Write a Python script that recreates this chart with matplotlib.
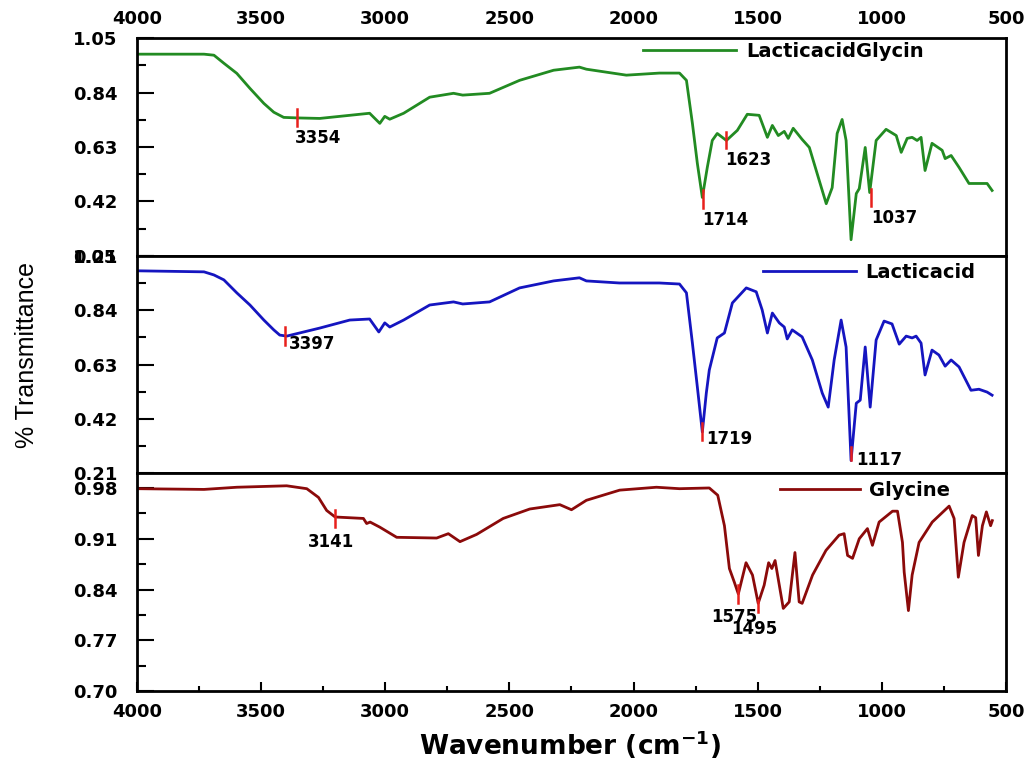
import matplotlib
matplotlib.use("Agg")
from matplotlib import pyplot as plt
from matplotlib import font_manager
from matplotlib.ticker import MultipleLocator, FormatStrFormatter

# ---- data ----
# LacticacidGlycin (top panel)
wn_lg = [4000, 3730, 3690, 3650, 3598, 3545, 3489, 3449, 3409, 3354, 3264, 3063, 3022, 3002, 2982,
         2926, 2821, 2725, 2688, 2580, 2459, 2322, 2218, 2190, 2029, 1896, 1815, 1787, 1763,
         1743, 1723, 1703, 1683, 1663, 1626, 1582, 1542, 1494, 1461, 1441, 1417, 1393, 1377,
         1357, 1321, 1292, 1252, 1224, 1200, 1180, 1160, 1144, 1124, 1103, 1091, 1067, 1049,
         1023, 983, 942, 922, 898, 878, 858, 842, 826, 798, 757, 745, 721, 689, 649,
         609, 576, 556]
t_lg = [0.988, 0.988, 0.984, 0.953, 0.914, 0.856, 0.798, 0.764, 0.744, 0.742, 0.740, 0.760, 0.721, 0.748, 0.737,
        0.760, 0.822, 0.837, 0.830, 0.837, 0.887, 0.926, 0.938, 0.930, 0.907, 0.915, 0.915, 0.887, 0.721,
        0.566, 0.435, 0.551, 0.655, 0.682, 0.655, 0.694, 0.756, 0.752, 0.667, 0.713, 0.674, 0.690, 0.663,
        0.702, 0.659, 0.628, 0.500, 0.411, 0.473, 0.682, 0.736, 0.655, 0.272, 0.450, 0.469, 0.628, 0.454,
        0.655, 0.698, 0.674, 0.609, 0.663, 0.667, 0.655, 0.667, 0.539, 0.644, 0.617, 0.585, 0.597, 0.551, 0.489,
        0.489, 0.489, 0.462]

# Lacticacid (middle panel)
wn_la = [4000, 3730, 3690, 3650, 3598, 3545, 3489, 3449, 3425, 3397, 3264, 3143, 3063, 3026, 3002,
         2982, 2926, 2821, 2725, 2688, 2580, 2459, 2322, 2218, 2190, 2057, 1896, 1815, 1787, 1763,
         1743, 1723, 1707, 1695, 1663, 1634, 1602, 1546, 1506, 1482, 1461, 1441, 1413, 1393, 1381,
         1361, 1321, 1280, 1240, 1216, 1192, 1164, 1144, 1124, 1103, 1087, 1067, 1047, 1023, 991,
         959, 930, 902, 878, 862, 842, 826, 798, 770, 745, 721, 689, 641, 609, 576, 556]
t_la = [0.992, 0.988, 0.976, 0.957, 0.907, 0.860, 0.802, 0.764, 0.744, 0.740, 0.771, 0.802, 0.806, 0.756, 0.791,
        0.775, 0.802, 0.860, 0.872, 0.864, 0.872, 0.926, 0.953, 0.965, 0.953, 0.945, 0.945, 0.941, 0.907, 0.713,
        0.543, 0.370, 0.520, 0.609, 0.733, 0.752, 0.868, 0.926, 0.911, 0.841, 0.752, 0.829, 0.791, 0.775, 0.729,
        0.764, 0.737, 0.648, 0.520, 0.466, 0.648, 0.802, 0.698, 0.260, 0.481, 0.493, 0.698, 0.466, 0.725, 0.798,
        0.787, 0.709, 0.740, 0.733, 0.740, 0.713, 0.590, 0.686, 0.667, 0.624, 0.648, 0.621, 0.531, 0.535, 0.524, 0.512]

# Glycine (bottom panel)
wn_gl = [4000, 3730, 3598, 3397, 3316, 3269, 3236, 3202, 3088, 3075, 3061, 3022, 2954, 2793,
         2746, 2699, 2632, 2525, 2418, 2297, 2250, 2190, 2056, 1908, 1815, 1695, 1661, 1634,
         1614, 1594, 1578, 1547, 1521, 1498, 1474, 1456, 1443, 1430, 1413, 1397, 1373, 1350,
         1333, 1321, 1279, 1225, 1172, 1152, 1138, 1118, 1091, 1058, 1038, 1011, 957, 937,
         917, 910, 893, 878, 850, 797, 729, 709, 692, 669, 636, 622, 611, 595, 579, 562, 555]
t_gl = [0.979, 0.978, 0.981, 0.983, 0.979, 0.967, 0.949, 0.940, 0.938, 0.931, 0.933, 0.926, 0.912, 0.911,
        0.917, 0.906, 0.916, 0.938, 0.951, 0.957, 0.950, 0.963, 0.977, 0.981, 0.979, 0.980, 0.970, 0.928,
        0.869, 0.850, 0.834, 0.877, 0.860, 0.821, 0.846, 0.877, 0.869, 0.880, 0.846, 0.814, 0.823, 0.891,
        0.823, 0.821, 0.860, 0.894, 0.915, 0.917, 0.887, 0.883, 0.910, 0.924, 0.901, 0.933, 0.948, 0.948,
        0.905, 0.864, 0.811, 0.860, 0.905, 0.933, 0.955, 0.938, 0.857, 0.905, 0.942, 0.939, 0.887, 0.928,
        0.947, 0.928, 0.935]

names = ["LacticacidGlycin", "Lacticacid", "Glycine"]
colors = ["#228b22", "#1515c0", "#8b0a0a"]

# peak marks: (marker wavenumber, marker y0, marker y1, label, label x, label y, ha)
peaks_lg = [(3354, 0.709, 0.775, "3354", 3365, 0.663, "left"),
            (1720, 0.396, 0.462, "1714", 1723, 0.349, "left"),
            (1626, 0.624, 0.686, "1623", 1630, 0.578, "left"),
            (1043, 0.404, 0.469, "1037", 1043, 0.357, "left")]
peaks_la = [(3402, 0.706, 0.775, "3397", 3390, 0.709, "left"),
            (1724, 0.338, 0.404, "1719", 1707, 0.342, "left"),
            (1124, 0.261, 0.311, "1117", 1105, 0.261, "left")]
peaks_gl = [(3203, 0.926, 0.949, "3141", 3219, 0.905, "center"),
            (1578, 0.822, 0.846, "1575", 1594, 0.802, "center"),
            (1498, 0.809, 0.825, "1495", 1514, 0.785, "center")]

plt.rcParams["font.family"] = "DejaVu Sans"
plt.rcParams["font.weight"] = "bold"

# narrow face for the y label if one is installed
installed = {f.name for f in font_manager.fontManager.ttflist}
narrow = "Liberation Sans Narrow" if "Liberation Sans Narrow" in installed else None

fig, axes = plt.subplots(3, 1, figsize=(10.26, 7.62), dpi=100, sharex=True)
fig.subplots_adjust(left=0.1335, right=0.9805, top=0.950, bottom=0.093, hspace=0)

series = [(wn_lg, t_lg, peaks_lg), (wn_la, t_la, peaks_la), (wn_gl, t_gl, peaks_gl)]
legend_pos = [(0.582, 0.940, 4.8), (0.720, 0.922, 4.8), (0.740, 0.922, 4.1)]

for i, ax in enumerate(axes):
    x, y, peaks = series[i]
    ax.plot(x, y, color=colors[i], lw=2.0, label=names[i], solid_joinstyle="round")
    for (px, y0, y1, lab, lx, ly, ha) in peaks:
        ax.plot([px, px], [y0, y1], color="#e8201c", lw=1.8)
        ax.text(lx, ly, lab, ha=ha, va="center", fontsize=12, fontweight="bold")
    lx0, ly0, hl = legend_pos[i]
    ax.legend(loc="center left", bbox_to_anchor=(lx0, ly0), frameon=False,
              borderpad=0, borderaxespad=0, handlelength=hl, handletextpad=0.5,
              prop={"weight": "bold", "size": 14})
    for s in ax.spines.values():
        s.set_linewidth(2)
    ax.tick_params(axis="y", which="major", direction="in", length=12, width=1.5,
                   labelsize=13, pad=14)
    ax.tick_params(axis="y", which="minor", direction="in", length=6.5, width=1.5)
    ax.tick_params(axis="x", which="both", bottom=False, top=False,
                   labelbottom=False, labeltop=False)

ax1, ax2, ax3 = axes
ax1.set_xlim(4000, 500)
ax3.xaxis.set_major_locator(MultipleLocator(500))
ax3.xaxis.set_minor_locator(MultipleLocator(250))

for ax in (ax1, ax2):
    ax.set_ylim(0.21, 1.05)
    ax.set_yticks([0.21, 0.42, 0.63, 0.84, 1.05])
    ax.yaxis.set_minor_locator(MultipleLocator(0.105))
ax3.set_ylim(0.70, 1.00)
ax3.set_yticks([0.70, 0.77, 0.84, 0.91, 0.98])
ax3.yaxis.set_minor_locator(MultipleLocator(0.035))
for ax in axes:
    ax.yaxis.set_major_formatter(FormatStrFormatter("%.2f"))

ax1.tick_params(axis="x", which="both", top=True, labeltop=True, length=0, labelsize=13, pad=7)
ax3.tick_params(axis="x", which="major", bottom=True, labelbottom=True, direction="in",
                length=6.5, width=1.5, labelsize=13, pad=8.5)
ax3.tick_params(axis="x", which="minor", bottom=True, direction="in", length=3.5, width=1.5)

fig.text(570 / 1026, 1 - 745 / 762, "Wavenumber (cm$^{\\mathbf{-1}}$)", ha="center", va="center",
         fontsize=19, fontweight="bold")
if narrow:
    fig.text(27 / 1026, 1 - 355 / 762, "% Transmittance", rotation=90, ha="center", va="center",
             fontsize=21, fontweight="normal", family=narrow)
else:
    fig.text(27 / 1026, 1 - 355 / 762, "% Transmittance", rotation=90, ha="center", va="center",
             fontsize=18, fontweight="normal", family="Liberation Sans")

fig.savefig("out.png", dpi=100)
